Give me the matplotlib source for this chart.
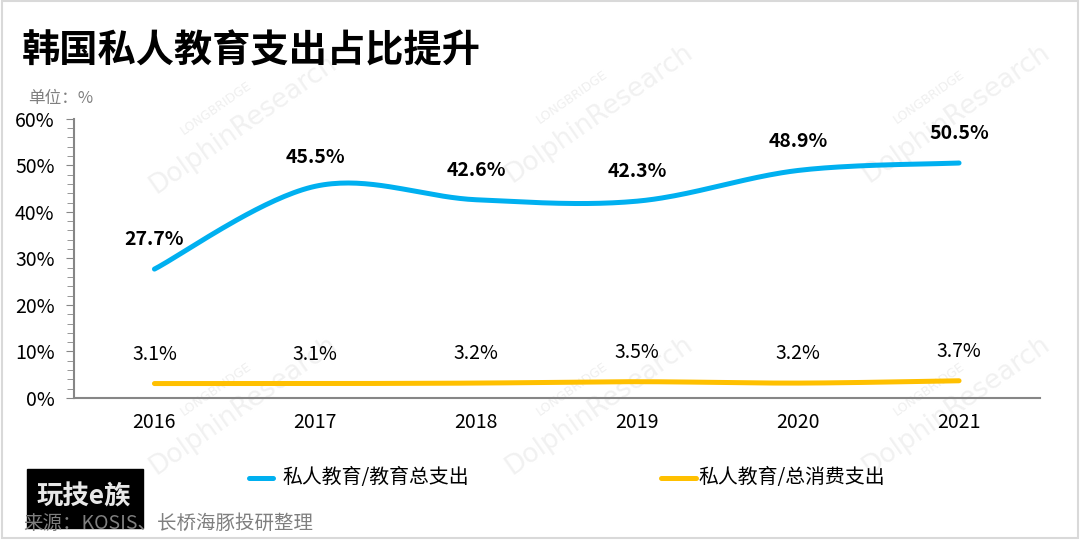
import numpy as np
import matplotlib.pyplot as plt
from matplotlib.patches import Rectangle
from matplotlib.ticker import MultipleLocator, FuncFormatter

plt.rcParams['font.family'] = ['Noto Sans CJK SC', 'DejaVu Sans']

years = ['2016', '2017', '2018', '2019', '2020', '2021']
edu_share = [27.7, 45.5, 42.6, 42.3, 48.9, 50.5]      # 私人教育/教育总支出
cons_share = [3.1, 3.1, 3.2, 3.5, 3.2, 3.7]           # 私人教育/总消费支出
series_names = ['私人教育/教育总支出', '私人教育/总消费支出']


def smooth(xs, ys, n=40):
    # excel-style smoothed line (catmull-rom bezier)
    xs = np.asarray(xs, float)
    ys = np.asarray(ys, float)
    px = np.concatenate([[xs[0]], xs, [xs[-1]]])
    py = np.concatenate([[ys[0]], ys, [ys[-1]]])
    outx, outy = [], []
    for i in range(1, len(px) - 2):
        p0 = np.array([px[i], py[i]])
        p3 = np.array([px[i + 1], py[i + 1]])
        c1 = p0 + (p3 - np.array([px[i - 1], py[i - 1]])) / 6
        c2 = p3 - (np.array([px[i + 2], py[i + 2]]) - p0) / 6
        t = np.linspace(0, 1, n)[:, None]
        b = (1 - t) ** 3 * p0 + 3 * (1 - t) ** 2 * t * c1 + 3 * (1 - t) * t ** 2 * c2 + t ** 3 * p3
        outx.extend(b[:, 0])
        outy.extend(b[:, 1])
    return np.array(outx), np.array(outy)


fig = plt.figure(figsize=(10.8, 5.4), dpi=100)
ax = fig.add_axes([0.0685, 0.263, 0.894, 0.517])

# watermark, kept behind everything
for wx, wy in [(0.20, 0.80), (0.53, 0.82), (0.86, 0.82), (0.20, 0.28), (0.53, 0.28), (0.86, 0.28)]:
    fig.text(wx, wy, 'LONGBRIDGE', rotation=35, fontsize=9, color='#efefef',
             ha='center', va='center', family='DejaVu Sans', zorder=-5)
    fig.text(wx + 0.025, wy - 0.03, 'DolphinResearch', rotation=35, fontsize=19, color='#f1f1f1',
             ha='center', va='center', family='DejaVu Sans', zorder=-5)

x = np.arange(len(years))
sx, sy = smooth(x, edu_share)
ax.plot(sx, sy, color='#00B0F0', lw=3.6, solid_capstyle='round', label=series_names[0])
sx2, sy2 = smooth(x, cons_share)
ax.plot(sx2, sy2, color='#FFC000', lw=3.6, solid_capstyle='round', label=series_names[1])

for i, v in enumerate(edu_share):
    ax.annotate(f'{v}%', (x[i], v), xytext=(0, 21), textcoords='offset points',
                ha='center', va='center', fontsize=14, fontweight='bold', color='black')
for i, v in enumerate(cons_share):
    ax.annotate(f'{v}%', (x[i], v), xytext=(0, 21), textcoords='offset points',
                ha='center', va='center', fontsize=14, color='black')

ax.set_xlim(-0.5, len(years) - 0.5)
ax.set_ylim(0, 60)
ax.set_xticks(x)
ax.set_xticklabels(years, fontsize=14)
ax.yaxis.set_major_locator(MultipleLocator(10))
ax.yaxis.set_minor_locator(MultipleLocator(2))
ax.yaxis.set_major_formatter(FuncFormatter(lambda v, p: f'{v:.0f}%'))
ax.tick_params(axis='y', labelsize=14, length=6, color='#868686', pad=8)
ax.tick_params(axis='y', which='minor', length=5, color='#868686')
ax.tick_params(axis='x', length=0, pad=10)
for s in ['top', 'right']:
    ax.spines[s].set_visible(False)
for s in ['left', 'bottom']:
    ax.spines[s].set_color('#868686')
    ax.spines[s].set_linewidth(1.5)
ax.patch.set_alpha(0)

# legend drawn by hand
fig.add_artist(plt.Line2D([0.231, 0.253], [0.115, 0.115], color='#00B0F0', lw=3.6,
                          solid_capstyle='round'))
fig.text(0.262, 0.115, series_names[0], fontsize=14.3, va='center')
fig.add_artist(plt.Line2D([0.612, 0.644], [0.115, 0.115], color='#FFC000', lw=3.6,
                          solid_capstyle='round'))
fig.text(0.647, 0.115, series_names[1], fontsize=14.3, va='center')

fig.text(0.02, 0.905, '韩国私人教育支出占比提升', fontsize=27.5, fontweight='black', va='center')
fig.text(0.026, 0.818, '单位：%', fontsize=12, color='#7f7f7f', va='center')

# logo box
fig.add_artist(Rectangle((0.025, 0.022), 0.107, 0.109, transform=fig.transFigure,
                         color='black', zorder=5))
fig.text(0.078, 0.079, '玩技e族', fontsize=19, fontweight='bold', color='#e8e8e8',
         ha='center', va='center', zorder=6)
fig.text(0.022, 0.031, '来源：KOSIS、长桥海豚投研整理', fontsize=14, color='#7f7f7f',
         va='center', zorder=7)

# frame
fig.add_artist(Rectangle((0.002, 0.004), 0.996, 0.994, transform=fig.transFigure,
                         fill=False, edgecolor='#d9d9d9', lw=1.5))

fig.savefig('out.png', dpi=100)
